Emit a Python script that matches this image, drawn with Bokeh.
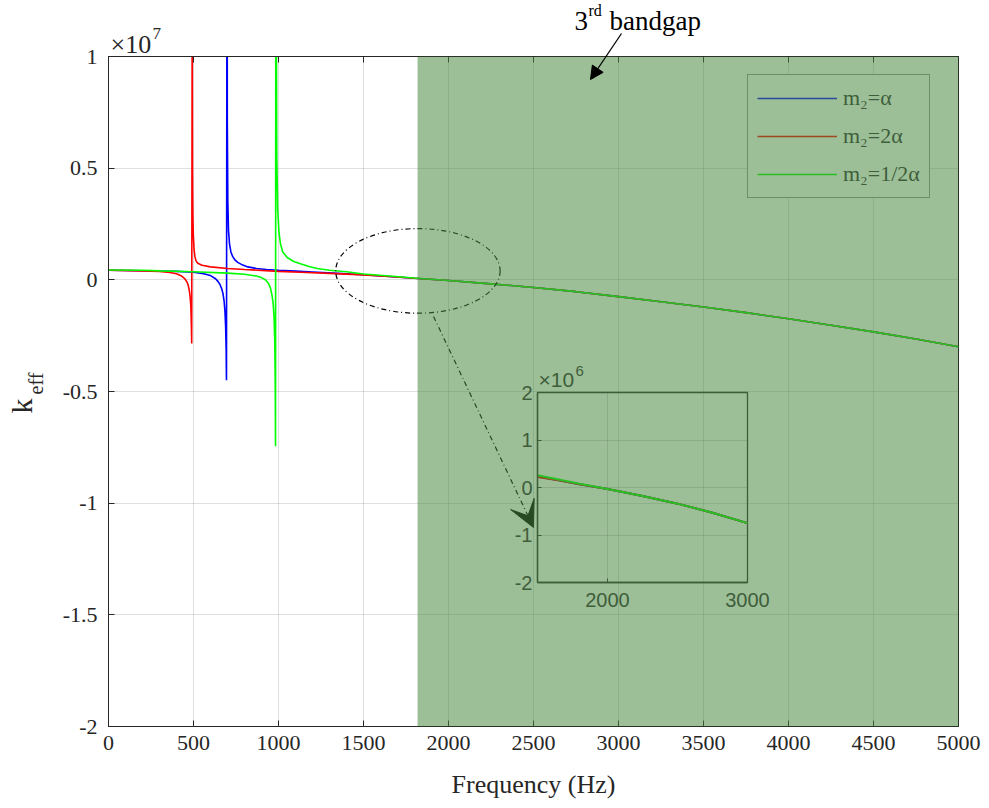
import numpy as np
from bokeh.plotting import figure
from bokeh.models import (FixedTicker, CustomJSTickFormatter, LinearAxis, Legend, LegendItem,
                          BoxAnnotation, Arrow, VeeHead, NormalHead, Label)
from bokeh.embed import file_html
from bokeh.resources import INLINE

# ---------------- data (k_eff in N/m, frequency in Hz) ----------------
freq_ticks = [0, 500, 1000, 1500, 2000, 2500, 3000, 3500, 4000, 4500, 5000]
k_ticks = [-2, -1.5, -1, -0.5, 0, 0.5, 1]            # x 10^7
inset_freq_ticks = [2000, 3000]
inset_k_ticks = [-2, -1, 0, 1, 2]                     # x 10^6
series_labels = ["m\u2082=\u03b1", "m\u2082=2\u03b1", "m\u2082=1/2\u03b1"]

bandgap_start = 1818  # Hz, start of the 3rd band gap

# shared high-frequency part of all three curves
tail_f = [2000, 2250, 2500, 2750, 3000, 3250, 3500, 3750, 4000, 4250, 4500, 4750, 5000]
tail_k = [-3e4, -1.8e5, -3.4e5, -5.3e5, -7.5e5, -9.8e5, -1.22e6, -1.47e6, -1.74e6,
          -2.03e6, -2.33e6, -2.65e6, -3.0e6]

# m2 = alpha (blue)
blue_f = [0, 200, 400, 500, 560, 600, 630, 645, 655, 665, 673, 680, 685, 689, 692, 694,
          697.5, 699, 702, 706, 712, 720, 730, 745, 760, 790, 820, 870, 930, 1000, 1100,
          1200, 1350, 1500, 1650, 1800]
blue_k = [4.3e5, 4.1e5, 3.8e5, 3.4e5, 2.7e5, 1.9e5, 5e4, -8e4, -2e5, -3.8e5, -6e5, -9.5e5,
          -1.4e6, -2.1e6, -3.1e6, -4.5e6,
          2e7, 7e6, 3.5e6, 2.2e6, 1.6e6, 1.25e6, 1.05e6, 8.8e5, 7.8e5, 6.6e5, 5.8e5, 5.1e5,
          4.6e5, 4.3e5, 3.9e5, 3.5e5, 2.9e5, 2.3e5, 1.5e5, 7e4]

# m2 = 2 alpha (red)
red_f = [0, 200, 300, 360, 400, 430, 450, 462, 470, 476, 480, 484, 486, 488, 489.5,
         492.5, 494, 496, 499, 503, 508, 515, 525, 550, 600, 700, 800, 900, 1000, 1130,
         1300, 1500, 1650, 1800]
red_k = [4.3e5, 4.0e5, 3.7e5, 3.3e5, 2.7e5, 1.7e5, 4e4, -1e5, -2.8e5, -5e5, -7.5e5, -1.15e6,
         -1.6e6, -2.2e6, -2.85e6,
         1.3e7, 5e6, 3e6, 2e6, 1.4e6, 1.05e6, 8.5e5, 7.4e5, 6.5e5, 5.8e5, 5.1e5, 4.6e5,
         4.2e5, 3.8e5, 3.4e5, 2.9e5, 2.2e5, 1.5e5, 7e4]

# m2 = 1/2 alpha (green)
green_f = [0, 200, 306, 500, 700, 800, 870, 900, 925, 940, 952, 962, 969, 974, 978, 980,
           981.5, 982.5,
           985.5, 987, 990, 995, 1003, 1012, 1025, 1051, 1090, 1129, 1180, 1227, 1300, 1400,
           1500, 1650, 1800]
green_k = [4.4e5, 4.3e5, 4.0e5, 3.6e5, 3.0e5, 2.5e5, 1.7e5, 1.0e5, -1e4, -1.5e5, -3.5e5,
           -7e5, -1.1e6, -1.7e6, -2.7e6, -4e6, -5.5e6, -7.45e6,
           3e7, 1.2e7, 5.5e6, 3.2e6, 2.1e6, 1.6e6, 1.25e6, 1.0e6, 8.2e5, 7.2e5, 6e5, 5.1e5,
           4.3e5, 3.6e5, 2.6e5, 1.7e5, 8e4]

main_scale = 1e7
inset_scale = 1e6

# ---------------- styles ----------------
SERIF = "Liberation Serif"
SANS = "Liberation Sans"
AX = "#262626"
band_rgb = (74, 137, 65)
band_alpha = 0.54
main_colors = ["#0000ff", "#ff0000", "#00ff00"]
shaded_colors = ["#284a98", "#9d4a23", "#28bf23"]   # the same colours seen through the band
shaded_ink = "#3e5e3a"
shaded_white = "#9dbf98"

fmt = CustomJSTickFormatter(code="return tick.toString();")

p = figure(width=989, height=808, x_range=(0, 5000), y_range=(-2, 1),
           output_backend="svg", toolbar_location=None,
           min_border_left=108, min_border_right=31, min_border_top=56, min_border_bottom=82,
           background_fill_color="white", border_fill_color="white",
           outline_line_color=AX, outline_line_width=1)

for ax in (p.xaxis[0], p.yaxis[0]):
    ax.major_label_text_font = SERIF
    ax.major_label_text_font_size = "22px"
    ax.major_label_text_color = AX
    ax.axis_line_color = AX
    ax.major_tick_line_color = AX
    ax.major_tick_in = 6
    ax.major_tick_out = 0
    ax.minor_tick_line_color = None
    ax.formatter = fmt
p.xaxis[0].ticker = FixedTicker(ticks=freq_ticks)
p.yaxis[0].ticker = FixedTicker(ticks=k_ticks)
p.xaxis[0].major_label_standoff = 9
p.yaxis[0].major_label_standoff = 11
p.xaxis[0].axis_label = "Frequency (Hz)"
p.xaxis[0].axis_label_text_font = SERIF
p.xaxis[0].axis_label_text_font_size = "26px"
p.xaxis[0].axis_label_text_font_style = "normal"
p.xaxis[0].axis_label_text_color = AX
p.xaxis[0].axis_label_standoff = 17

top_ax = LinearAxis(ticker=FixedTicker(ticks=freq_ticks), formatter=fmt,
                    major_label_text_alpha=0, major_label_text_font_size="1px",
                    major_tick_in=6, major_tick_out=0, minor_tick_line_color=None,
                    axis_line_color=AX, major_tick_line_color=AX, major_label_standoff=0)
p.add_layout(top_ax, "above")

p.grid.grid_line_color = AX
p.grid.grid_line_alpha = 0.15
p.xgrid.ticker = FixedTicker(ticks=freq_ticks)
p.ygrid.ticker = FixedTicker(ticks=k_ticks)

curves = [(blue_f, blue_k), (red_f, red_k), (green_f, green_k)]
for (f, k), col in zip(curves, main_colors):
    ff = np.array(f + tail_f, dtype=float)
    kk = np.array(k + tail_k, dtype=float)
    p.line(ff, kk / main_scale, line_color=col, line_width=1.6)

# zoom callout: ellipse and dash-dot arrow to the inset
p.ellipse(x=[1820], y=[0.04], width=[967], height=[0.379], fill_alpha=0,
          line_color="black", line_width=1.2, line_dash="5 3 1 3")
p.add_layout(Arrow(x_start=1912, y_start=-0.164, x_end=2500, y_end=-1.109,
                   line_color="black", line_width=1.2, line_dash="5 3 1 3",
                   end=VeeHead(size=26, fill_color="black", line_color="black")))

# the band gap (drawn over everything, semi-transparent)
band = BoxAnnotation(left=bandgap_start, fill_color=band_rgb, fill_alpha=band_alpha,
                     line_alpha=0, level="overlay")
p.add_layout(band)

# legend (it sits inside the band, so it is drawn in the band-tinted colours)
legend_renderers = [p.line([np.nan], [np.nan], line_color=c, line_width=1.6)
                    for c in shaded_colors]
items = [LegendItem(label=lab, renderers=[r]) for lab, r in zip(series_labels, legend_renderers)]
legend = Legend(items=items, location=(639, 528), margin=0, padding=9, spacing=10,
                glyph_width=80, glyph_height=28, label_height=28, label_standoff=6,
                label_text_font=SERIF, label_text_font_size="22px", label_text_color=shaded_ink,
                border_line_color=shaded_ink, border_line_width=1.3,
                background_fill_color=shaded_white, background_fill_alpha=1, level="overlay")
p.add_layout(legend)

# ---------------- inset ----------------
inset = figure(width=280, height=255, x_range=(1500, 3000), y_range=(-2, 2),
               output_backend="svg", toolbar_location=None,
               min_border_left=40, min_border_right=30, min_border_top=30, min_border_bottom=35,
               background_fill_alpha=0, border_fill_alpha=0,
               outline_line_color=shaded_ink, outline_line_width=1.3,
               styles={"position": "absolute", "left": "497px", "top": "362px"})
for ax in (inset.xaxis[0], inset.yaxis[0]):
    ax.major_label_text_font = SANS
    ax.major_label_text_font_size = "20px"
    ax.major_label_text_color = shaded_ink
    ax.axis_line_color = shaded_ink
    ax.axis_line_width = 1.3
    ax.major_tick_line_color = shaded_ink
    ax.major_tick_in = 4
    ax.major_tick_out = 0
    ax.minor_tick_line_color = None
    ax.formatter = fmt
inset.xaxis[0].ticker = FixedTicker(ticks=inset_freq_ticks)
inset.yaxis[0].ticker = FixedTicker(ticks=inset_k_ticks)
inset.xaxis[0].major_label_standoff = 10
inset.yaxis[0].major_label_standoff = 5
inset.grid.grid_line_color = "black"
inset.grid.grid_line_alpha = 0.1
inset.xgrid.ticker = FixedTicker(ticks=inset_freq_ticks)
inset.ygrid.ticker = FixedTicker(ticks=inset_k_ticks)

for (f, k), col in zip(curves, shaded_colors):
    ff = np.array(f + tail_f, dtype=float)
    kk = np.array(k + tail_k, dtype=float)
    inset.line(ff, kk / inset_scale, line_color=col, line_width=2)

# ---------------- text overlay (page pixel coordinates, y downwards) ----------------
ov = figure(width=989, height=808, x_range=(0, 989), y_range=(808, 0),
            x_axis_type=None, y_axis_type=None, output_backend="svg", toolbar_location=None,
            min_border=0, outline_line_color=None,
            background_fill_alpha=0, border_fill_alpha=0,
            styles={"position": "absolute", "left": "0px", "top": "0px"})
ov.grid.visible = False


def txt(x, y, s, size, font=SERIF, color=AX, angle=0.0):
    ov.add_layout(Label(x=x, y=y, text=s, text_font=font, text_font_size=size,
                        text_color=color, text_baseline="alphabetic", text_align="left",
                        angle=angle))


# x10^7 exponent
txt(110, 44, "\u00d710", "26px")
txt(152, 33, "7", "17px")
# y label k_eff
txt(21, 413, "k", "30px", angle=np.pi / 2)
txt(35, 394, "eff", "20px", angle=np.pi / 2)
# 3rd bandgap
txt(574, 20, "3", "27px", color="black")
txt(588, 10, "rd", "16px", color="black")
txt(609, 20, "bandgap", "27px", color="black")
ov.add_layout(Arrow(x_start=621, y_start=33, x_end=590, y_end=79,
                    line_color="black", line_width=1.3,
                    end=NormalHead(size=13, fill_color="black", line_color="black")))
# inset exponent x10^6
txt(538, 379, "\u00d710", "21px", font=SANS, color=shaded_ink)
txt(575, 370, "6", "15px", font=SANS, color=shaded_ink)

open("out.html", "w").write(file_html([p, inset, ov], INLINE))
